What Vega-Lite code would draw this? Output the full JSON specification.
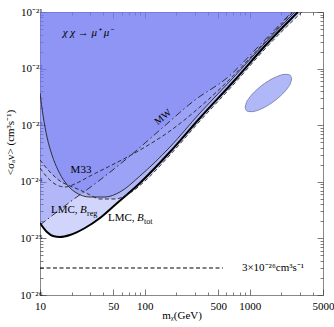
{
  "$schema": "https://vega.github.io/schema/vega-lite/v6.json",
  "width": 283,
  "height": 283,
  "autosize": {"type": "none"},
  "padding": {"left": 40, "top": 12, "right": 11, "bottom": 32},
  "background": "white",
  "datasets": {
    "curves": [
      {"c": "Btot", "m": 10, "s": 1.871e-25},
      {"c": "Btot", "m": 11.66, "s": 1.297e-25},
      {"c": "Btot", "m": 13.3, "s": 1.102e-25},
      {"c": "Btot", "m": 15.51, "s": 1.058e-25},
      {"c": "Btot", "m": 19.32, "s": 1.148e-25},
      {"c": "Btot", "m": 26.85, "s": 1.527e-25},
      {"c": "Btot", "m": 37.33, "s": 2.293e-25},
      {"c": "Btot", "m": 51.88, "s": 3.891e-25},
      {"c": "Btot", "m": 89.81, "s": 9.524e-25},
      {"c": "Btot", "m": 173.5, "s": 3.361e-24},
      {"c": "Btot", "m": 335.2, "s": 1.341e-23},
      {"c": "Btot", "m": 722.5, "s": 6.291e-23},
      {"c": "Btot", "m": 1396, "s": 2.508e-22},
      {"c": "Btot", "m": 2881, "s": 1e-21},
      {"c": "MW", "m": 10, "s": 1.724e-25},
      {"c": "MW", "m": 19.32, "s": 4.395e-25},
      {"c": "MW", "m": 37.33, "s": 1.076e-24},
      {"c": "MW", "m": 72.1, "s": 2.856e-24},
      {"c": "MW", "m": 139.3, "s": 8.227e-24},
      {"c": "MW", "m": 300.4, "s": 2.787e-23},
      {"c": "MW", "m": 606.4, "s": 6.823e-23},
      {"c": "MW", "m": 1251, "s": 2.612e-22},
      {"c": "MW", "m": 2525, "s": 1e-21},
      {"c": "M33", "m": 10, "s": 3.707e-23},
      {"c": "M33", "m": 10.68, "s": 1.514e-23},
      {"c": "M33", "m": 11.66, "s": 6.186e-24},
      {"c": "M33", "m": 13.01, "s": 2.975e-24},
      {"c": "M33", "m": 14.84, "s": 1.616e-24},
      {"c": "M33", "m": 17.31, "s": 9.92e-25},
      {"c": "M33", "m": 21.57, "s": 6.603e-25},
      {"c": "M33", "m": 29.97, "s": 5.388e-25},
      {"c": "M33", "m": 41.66, "s": 5.388e-25},
      {"c": "M33", "m": 57.89, "s": 6.603e-25},
      {"c": "M33", "m": 89.81, "s": 1.266e-24},
      {"c": "M33", "m": 173.5, "s": 4.118e-24},
      {"c": "M33", "m": 335.2, "s": 1.643e-23},
      {"c": "M33", "m": 722.5, "s": 7.401e-23},
      {"c": "M33", "m": 1396, "s": 2.833e-22},
      {"c": "M33", "m": 2697, "s": 1e-21},
      {"c": "Breg", "m": 10, "s": 2.428e-24},
      {"c": "Breg", "m": 12.45, "s": 1.49e-24},
      {"c": "Breg", "m": 15.51, "s": 1.033e-24},
      {"c": "Breg", "m": 19.32, "s": 8.428e-25},
      {"c": "Breg", "m": 24.06, "s": 7.163e-25},
      {"c": "Breg", "m": 29.97, "s": 5.843e-25},
      {"c": "Breg", "m": 37.33, "s": 4.967e-25},
      {"c": "Breg", "m": 51.88, "s": 4.967e-25},
      {"c": "Breg", "m": 72.1, "s": 6.339e-25},
      {"c": "Breg", "m": 100.2, "s": 1.033e-24},
      {"c": "Breg", "m": 173.5, "s": 2.975e-24},
      {"c": "Breg", "m": 335.2, "s": 1.187e-23},
      {"c": "Breg", "m": 722.5, "s": 5.567e-23},
      {"c": "Breg", "m": 1396, "s": 2.22e-22},
      {"c": "Breg", "m": 3144, "s": 1e-21},
      {"c": "D2", "m": 10, "s": 1.753e-24},
      {"c": "D2", "m": 11.66, "s": 1.215e-24},
      {"c": "D2", "m": 13.9, "s": 9.144e-25},
      {"c": "D2", "m": 17.31, "s": 8.092e-25},
      {"c": "D2", "m": 22.53, "s": 9.524e-25},
      {"c": "D2", "m": 29.97, "s": 1.266e-24},
      {"c": "D2", "m": 46.49, "s": 1.902e-24},
      {"c": "D2", "m": 89.81, "s": 3.645e-24},
      {"c": "D2", "m": 173.5, "s": 7.899e-24},
      {"c": "D2", "m": 335.2, "s": 2.097e-23},
      {"c": "D2", "m": 647.5, "s": 6.552e-23},
      {"c": "D2", "m": 1307, "s": 2.612e-22},
      {"c": "D2", "m": 2581, "s": 1e-21}
    ],
    "ellipse": [
      {"m": 904, "s": 2.071e-23, "s2": 2.071e-23},
      {"m": 930, "s": 2.518e-23, "s2": 1.814e-23},
      {"m": 972, "s": 2.894e-23, "s2": 1.744e-23},
      {"m": 1061, "s": 3.554e-23, "s2": 1.735e-23},
      {"m": 1158, "s": 4.184e-23, "s2": 1.8e-23},
      {"m": 1265, "s": 4.816e-23, "s2": 1.911e-23},
      {"m": 1381, "s": 5.445e-23, "s2": 2.064e-23},
      {"m": 1508, "s": 6.061e-23, "s2": 2.266e-23},
      {"m": 1646, "s": 6.653e-23, "s2": 2.522e-23},
      {"m": 1797, "s": 7.186e-23, "s2": 2.851e-23},
      {"m": 1962, "s": 7.628e-23, "s2": 3.281e-23},
      {"m": 2142, "s": 7.913e-23, "s2": 3.864e-23},
      {"m": 2338, "s": 7.875e-23, "s2": 4.744e-23},
      {"m": 2443, "s": 7.57e-23, "s2": 5.454e-23},
      {"m": 2514, "s": 6.639e-23, "s2": 6.639e-23}
    ],
    "ref": [
      {"m": 10, "s": 3e-26},
      {"m": 555, "s": 3e-26}
    ],
    "labels": [
      {"t": "χ χ → μ⁺ μ⁻", "m": 28.7, "s": 4.256e-22, "k": "italC"},
      {"t": "MW", "m": 148.8, "s": 1.396e-23, "k": "rot"},
      {"t": "M33", "m": 24.6, "s": 1.616e-24, "k": "plainC"},
      {"t": "LMC,", "m": 12.73, "s": 3.175e-25, "k": "plainL"},
      {"t": "B", "m": 24.06, "s": 3.175e-25, "k": "italL"},
      {"t": "reg", "m": 28.05, "s": 2.698e-25, "k": "subL"},
      {"t": "LMC,", "m": 44.49, "s": 2.293e-25, "k": "plainL"},
      {"t": "B", "m": 84.09, "s": 2.293e-25, "k": "italL"},
      {"t": "tot", "m": 98.0, "s": 1.949e-25, "k": "subL"},
      {"t": "3×10⁻²⁶cm³s⁻¹", "m": 842.6, "s": 3e-26, "k": "plainL"}
    ]
  },
  "encoding": {
    "x": {"field": "m", "type": "quantitative", "scale": {"type": "log", "domain": [10, 5000]}, "axis": null},
    "y": {"field": "s", "type": "quantitative", "scale": {"type": "log", "domain": [1e-26, 1e-21]}, "axis": null}
  },
  "layer": [
    {
      "data": {"name": "curves"},
      "transform": [{"filter": "datum.c != 'D2'"}],
      "mark": {"type": "area", "interpolate": "monotone", "clip": true, "fill": "#7078f2", "fillOpacity": 0.32},
      "encoding": {
        "x": {"field": "m", "type": "quantitative", "scale": {"type": "log", "domain": [10, 5000]},
          "axis": {"orient": "bottom", "values": [10,20,30,40,50,60,70,80,90,100,200,300,400,500,600,700,800,900,1000,2000,3000,4000,5000],
            "labelExpr": "indexof([10,50,100,500,1000,5000], datum.value) >= 0 ? '' + datum.value : ''",
            "tickSize": {"condition": {"test": "indexof([10,50,100,500,1000,5000], datum.value) >= 0", "value": -6}, "value": -3},
            "labelPadding": 11, "labelOverlap": false, "labelFlush": false, "domain": false, "title": "mᵪ(GeV)", "titlePadding": -5}},
        "y": {"field": "s", "type": "quantitative", "stack": null, "scale": {"type": "log", "domain": [1e-26, 1e-21]},
          "axis": {"orient": "left", "values": [1e-26,2e-26,3e-26,4e-26,5e-26,6e-26,7e-26,8e-26,9e-26,1e-25,2e-25,3e-25,4e-25,5e-25,6e-25,7e-25,8e-25,9e-25,1e-24,2e-24,3e-24,4e-24,5e-24,6e-24,7e-24,8e-24,9e-24,1e-23,2e-23,3e-23,4e-23,5e-23,6e-23,7e-23,8e-23,9e-23,1e-22,2e-22,3e-22,4e-22,5e-22,6e-22,7e-22,8e-22,9e-22,1e-21],
            "labelExpr": "abs(log(datum.value)/LN10 - round(log(datum.value)/LN10)) > 0.0001 ? '' : ['10⁻²⁶','10⁻²⁵','10⁻²⁴','10⁻²³','10⁻²²','10⁻²¹'][round(log(datum.value)/LN10) + 26]",
            "tickSize": {"condition": {"test": "abs(log(datum.value)/LN10 - round(log(datum.value)/LN10)) < 0.0001", "value": -6}, "value": -3},
            "labelPadding": 4, "labelOverlap": false, "labelFlush": false, "domain": false, "title": "<σₐv> (cm³s⁻¹)", "titlePadding": 4, "titleY": 130}},
        "y2": {"datum": 1e-21},
        "detail": {"field": "c"}
      }
    },
    {
      "data": {"name": "ellipse"},
      "mark": {"type": "area", "interpolate": "monotone", "clip": true, "fill": "#b1b8f7", "stroke": "#6e73a6", "strokeWidth": 0.8},
      "encoding": {"y2": {"field": "s2"}}
    },
    {
      "data": {"name": "ref"},
      "mark": {"type": "line", "color": "black", "strokeWidth": 1, "strokeDash": [4, 2.5]},
      "encoding": {
        "x": {"field": "m", "type": "quantitative", "scale": {"type": "log", "domain": [10, 5000]},
          "axis": {"orient": "top", "values": [10,20,30,40,50,60,70,80,90,100,200,300,400,500,600,700,800,900,1000,2000,3000,4000,5000],
            "labels": false, "title": null, "domain": false,
            "tickSize": {"condition": {"test": "indexof([10,50,100,500,1000,5000], datum.value) >= 0", "value": -6}, "value": -3}}},
        "y": {"field": "s", "type": "quantitative", "scale": {"type": "log", "domain": [1e-26, 1e-21]},
          "axis": {"orient": "right", "values": [1e-26,2e-26,3e-26,4e-26,5e-26,6e-26,7e-26,8e-26,9e-26,1e-25,2e-25,3e-25,4e-25,5e-25,6e-25,7e-25,8e-25,9e-25,1e-24,2e-24,3e-24,4e-24,5e-24,6e-24,7e-24,8e-24,9e-24,1e-23,2e-23,3e-23,4e-23,5e-23,6e-23,7e-23,8e-23,9e-23,1e-22,2e-22,3e-22,4e-22,5e-22,6e-22,7e-22,8e-22,9e-22,1e-21],
            "labels": false, "title": null, "domain": false,
            "tickSize": {"condition": {"test": "abs(log(datum.value)/LN10 - round(log(datum.value)/LN10)) < 0.0001", "value": -6}, "value": -3}}}
      }
    },
    {
      "data": {"name": "curves"},
      "transform": [{"filter": "datum.c == 'Btot'"}],
      "mark": {"type": "line", "interpolate": "monotone", "clip": true, "color": "black", "strokeWidth": 2}
    },
    {
      "data": {"name": "curves"},
      "transform": [{"filter": "datum.c == 'M33'"}],
      "mark": {"type": "line", "interpolate": "monotone", "clip": true, "color": "#222", "strokeWidth": 0.9}
    },
    {
      "data": {"name": "curves"},
      "transform": [{"filter": "datum.c == 'Breg' || datum.c == 'D2'"}],
      "mark": {"type": "line", "interpolate": "monotone", "clip": true, "color": "#222", "strokeWidth": 0.9, "strokeDash": [4, 2.5]},
      "encoding": {"detail": {"field": "c"}}
    },
    {
      "data": {"name": "curves"},
      "transform": [{"filter": "datum.c == 'MW'"}],
      "mark": {"type": "line", "interpolate": "monotone", "clip": true, "color": "#222", "strokeWidth": 0.9, "strokeDash": [7, 3, 1.5, 3]}
    },
    {
      "data": {"name": "labels"},
      "transform": [{"filter": "datum.k == 'plainL'"}],
      "mark": {"type": "text", "align": "left", "baseline": "middle", "font": "Liberation Serif", "fontSize": 11, "color": "black"},
      "encoding": {"text": {"field": "t"}}
    },
    {
      "data": {"name": "labels"},
      "transform": [{"filter": "datum.k == 'plainC'"}],
      "mark": {"type": "text", "align": "center", "baseline": "middle", "font": "Liberation Serif", "fontSize": 11, "color": "black"},
      "encoding": {"text": {"field": "t"}}
    },
    {
      "data": {"name": "labels"},
      "transform": [{"filter": "datum.k == 'italL'"}],
      "mark": {"type": "text", "align": "left", "baseline": "middle", "font": "Liberation Serif", "fontStyle": "italic", "fontSize": 11, "color": "black"},
      "encoding": {"text": {"field": "t"}}
    },
    {
      "data": {"name": "labels"},
      "transform": [{"filter": "datum.k == 'italC'"}],
      "mark": {"type": "text", "align": "center", "baseline": "middle", "font": "Liberation Serif", "fontStyle": "italic", "fontSize": 11, "color": "black"},
      "encoding": {"text": {"field": "t"}}
    },
    {
      "data": {"name": "labels"},
      "transform": [{"filter": "datum.k == 'subL'"}],
      "mark": {"type": "text", "align": "left", "baseline": "middle", "font": "Liberation Serif", "fontSize": 8, "color": "black"},
      "encoding": {"text": {"field": "t"}}
    },
    {
      "data": {"name": "labels"},
      "transform": [{"filter": "datum.k == 'rot'"}],
      "mark": {"type": "text", "align": "center", "baseline": "middle", "font": "Liberation Serif", "fontSize": 10, "angle": -40, "color": "black"},
      "encoding": {"text": {"field": "t"}}
    }
  ],
  "resolve": {"axis": {"x": "independent", "y": "independent"}},
  "config": {
    "font": "Liberation Serif",
    "view": {"stroke": "#888", "strokeWidth": 1},
    "axis": {"labelFont": "Liberation Serif", "labelFontSize": 11, "labelColor": "black", "titleFont": "Liberation Serif", "titleFontSize": 11, "titleFontWeight": "normal", "titleColor": "black", "tickColor": "#444", "tickWidth": 0.7, "grid": false}
  }
}
